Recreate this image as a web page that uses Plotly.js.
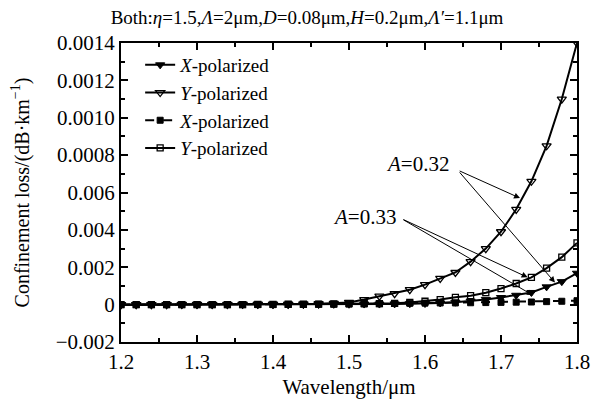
<!DOCTYPE html>
<html>
<head>
<meta charset="utf-8">
<script src="https://cdn.plot.ly/plotly-3.0.1.min.js"></script>
<style>html,body{margin:0;padding:0;background:#fff;}#chart{width:594px;height:404px;}</style>
</head>
<body>
<div id="chart"></div>
<script>
const wavelength = [1.20,1.22,1.24,1.26,1.28,1.30,1.32,1.34,1.36,1.38,1.40,1.42,1.44,1.46,1.48,1.50,1.52,1.54,1.56,1.58,1.60,1.62,1.64,1.66,1.68,1.70,1.72,1.74,1.76,1.78,1.80];
// A=0.32
const xPol032 = [0,0,0,0,0,0,0,0,0,0,0,0,0,0.00001,0.00002,0.00002,0.00003,0.00003,0.00004,0.00005,0.00006,0.00009,0.00013,0.00019,0.00028,0.00038,0.0005,0.00065,0.00095,0.00123,0.00168];
const yPol032 = [0,0,0,0,0.00001,0.00001,0.00001,0.00001,0.00002,0.00002,0.00002,0.00003,0.00004,0.00005,0.00007,0.00012,0.00027,0.00045,0.00059,0.0008,0.00107,0.0014,0.00172,0.0023,0.003,0.0039,0.0051,0.0066,0.0085,0.011,0.014];
// A=0.33
const xPol033 = [0,0,0,0,0,0,0,0,0,0,0,0.00001,0.00001,0.00002,0.00002,0.00003,0.00004,0.00005,0.00006,0.00007,0.00008,0.00009,0.00009,0.0001,0.00011,0.00012,0.00013,0.00014,0.00016,0.00018,0.00021];
const yPol033 = [0,0,0,0,0,0,0,0,0,0.00001,0.00001,0.00002,0.00002,0.00003,0.00004,0.00005,0.00006,0.00005,0.00007,0.00012,0.00018,0.00027,0.00039,0.00048,0.00064,0.00086,0.00113,0.00146,0.00195,0.00254,0.0033];

const yTickVals = [-0.002,0,0.002,0.004,0.006,0.008,0.010,0.012,0.014];
const yTickText = ["\u22120.002","0","0.002","0.004","0.006","0.0008","0.0010","0.0012","0.0014"];
const xTickVals = [1.2,1.3,1.4,1.5,1.6,1.7,1.8];
const xTickText = ["1.2","1.3","1.4","1.5","1.6","1.7","1.8"];

const FONT = "Liberation Serif, Times New Roman, serif";

const traces = [
  {x: wavelength, y: xPol032, name: "<i>X</i>-polarized", mode: "lines+markers",
   line: {color: "#000", width: 2, dash: "solid"},
   marker: {symbol: "triangle-down", size: 8, color: "#000", line: {color: "#000", width: 1}}},
  {x: wavelength, y: yPol032, name: "<i>Y</i>-polarized", mode: "lines+markers",
   line: {color: "#000", width: 2, dash: "solid"},
   marker: {symbol: "triangle-down-open", size: 8, color: "#000", line: {color: "#000", width: 1.3}}},
  {x: wavelength, y: xPol033, name: "<i>X</i>-polarized", mode: "lines+markers",
   line: {color: "#000", width: 2, dash: "dash"},
   marker: {symbol: "square", size: 6, color: "#000", line: {color: "#000", width: 1}}},
  {x: wavelength, y: yPol033, name: "<i>Y</i>-polarized", mode: "lines+markers",
   line: {color: "#000", width: 2, dash: "solid"},
   marker: {symbol: "square-open", size: 6, color: "#000", line: {color: "#000", width: 1.3}}}
];

function arrow(tipX, tipY, tailX, tailY) {
  return {x: tipX, y: tipY, ax: tailX, ay: tailY, axref: "x", ayref: "y", xref: "x", yref: "y",
    text: " ", showarrow: true, arrowhead: 2, arrowsize: 1.2, arrowwidth: 1, arrowcolor: "#000",
    standoff: 0, startstandoff: 0, font: {size: 2}};
}

const annotations = [
  {x: 1.590, y: 0.0075, xref: "x", yref: "y", text: "<i>A</i>=0.32", showarrow: false,
   font: {family: FONT, size: 21, color: "#000"}},
  {x: 1.521, y: 0.0047, xref: "x", yref: "y", text: "<i>A</i>=0.33", showarrow: false,
   font: {family: FONT, size: 21, color: "#000"}},
  arrow(1.725, 0.0057, 1.643, 0.0072),
  arrow(1.771, 0.00118, 1.643, 0.0072),
  arrow(1.735, 0.00146, 1.569, 0.0046),
  arrow(1.742, 0.0005, 1.569, 0.0046)
];

const layout = {
  width: 594, height: 404,
  margin: {l: 121, r: 17, t: 43, b: 62},
  paper_bgcolor: "#fff", plot_bgcolor: "#fff",
  font: {family: FONT, size: 19, color: "#000"},
  showlegend: true,
  legend: {x: 0.042, y: 0.99, xanchor: "left", yanchor: "top", bgcolor: "rgba(0,0,0,0)",
    font: {family: FONT, size: 19, color: "#000"}, tracegroupgap: 0, itemwidth: 30},
  title: {text: "Both:<i>η</i>=1.5,<i>Λ</i>=2μm,<i>D</i>=0.08μm,<i>H</i>=0.2μm,<i>Λ′</i>=1.1μm",
    x: 307/594, xref: "container", xanchor: "center", y: 1 - 17/404, yref: "container", yanchor: "middle",
    font: {family: FONT, size: 19, color: "#000"}},
  xaxis: {range: [1.2, 1.8], tickvals: xTickVals, ticktext: xTickText, ticks: "inside", ticklen: 7, tickwidth: 2,
    tickcolor: "#000", showline: true, linecolor: "#000", linewidth: 2, mirror: "allticks", showgrid: false,
    zeroline: false, tickfont: {family: FONT, size: 21},
    minor: {tickvals: [1.25,1.35,1.45,1.55,1.65,1.75], ticks: "inside", ticklen: 4, tickwidth: 2, tickcolor: "#000", showgrid: false},
    title: {text: "Wavelength/μm", font: {family: FONT, size: 21}, standoff: 6}},
  yaxis: {range: [-0.002, 0.014], tickvals: yTickVals, ticktext: yTickText, ticks: "inside", ticklen: 7, tickwidth: 2,
    tickcolor: "#000", showline: true, linecolor: "#000", linewidth: 2, mirror: "allticks", showgrid: false,
    zeroline: false, tickfont: {family: FONT, size: 21},
    minor: {tickvals: [-0.001,0.001,0.003,0.005,0.007,0.009,0.011,0.013], ticks: "inside", ticklen: 4, tickwidth: 2, tickcolor: "#000", showgrid: false},
    title: {text: "Confinement loss/(dB·km<sup>−1</sup>)", font: {family: FONT, size: 20}, standoff: 21}},
  annotations: annotations
};

Plotly.newPlot("chart", traces, layout, {displayModeBar: false, staticPlot: true});
</script>
</body>
</html>
